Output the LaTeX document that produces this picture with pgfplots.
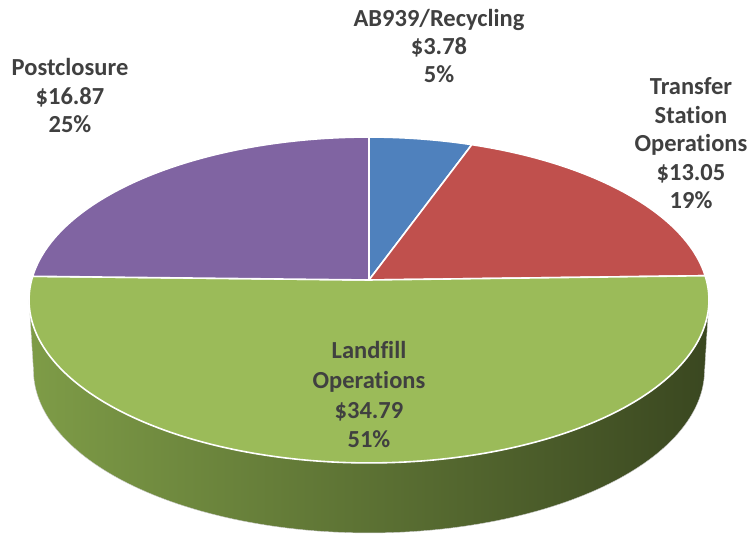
\documentclass[border=0pt]{standalone}
\usepackage{pgfplots}
\usepackage{pgfplotstable}
\pgfplotsset{compat=1.18}
\usepackage{fontspec}
\setmainfont{Carlito}[Ligatures=NoCommon]
\definecolor{cBlue}{HTML}{4F81BD}
\definecolor{cRed}{HTML}{C0504D}
\definecolor{cGreen}{HTML}{9BBB59}
\definecolor{cPurple}{HTML}{8064A2}
\definecolor{sideL}{HTML}{7E9C47}
\definecolor{sideM}{HTML}{5C7336}
\definecolor{sideR}{HTML}{3A4720}
\definecolor{txt}{HTML}{404040}
\pgfplotstableread{
name value
AB939 3.78
Transfer 13.05
Landfill 34.79
Postclosure 16.87
}\budget
\pgfplotstablegetelem{0}{value}\of\budget \let\vA\pgfplotsretval
\pgfplotstablegetelem{1}{value}\of\budget \let\vB\pgfplotsretval
\pgfplotstablegetelem{2}{value}\of\budget \let\vC\pgfplotsretval
\pgfplotstablegetelem{3}{value}\of\budget \let\vD\pgfplotsretval
\pgfmathsetmacro\tot{\vA+\vB+\vC+\vD}
\pgfmathsetmacro\tA{90}
\pgfmathsetmacro\tB{\tA-360*\vA/\tot}
\pgfmathsetmacro\tC{\tB-360*\vB/\tot}
\pgfmathsetmacro\tD{\tC-360*\vC/\tot}
\pgfmathsetmacro\tE{\tD-360*\vD/\tot}
% projection of the pie
\def\Cx{369}\def\Cy{258}\def\RA{337.4}\def\RB{160.5}\def\K{0.1227}
\def\Dp{70}\def\RAb{333}
\pgfmathsetmacro\tL{180+asin(\K)}
\pgfmathsetmacro\tR{360-asin(\K)}
\pgfmathsetmacro\span{\tR-\tL}
\begin{document}
\begin{tikzpicture}
\begin{axis}[width=750pt,height=538pt,scale only axis,
  xmin=0,xmax=750,ymin=0,ymax=538,hide axis,clip=false]
\path (axis cs:0,0) rectangle (axis cs:750,538);
% side of the pie
\addplot[draw=gray!40,line width=0.4pt,left color=sideL,middle color=sideM,right color=sideR,
  domain=0:2,samples=301,variable=\s]
  ({ \s<=1 ? \Cx+\RA*cos(\tL+\s*\span)/(1+\K*sin(\tL+\s*\span)) : \Cx+\RAb*cos(\tR-(\s-1)*\span)/(1+\K*sin(\tR-(\s-1)*\span)) },
   { \s<=1 ? \Cy+\RB*sin(\tL+\s*\span)/(1+\K*sin(\tL+\s*\span)) : \Cy-\Dp+\RB*sin(\tR-(\s-1)*\span)/(1+\K*sin(\tR-(\s-1)*\span)) })
  -- cycle;
% top slices
\addplot[fill=cBlue,draw=white,line width=1.6pt,line join=round,domain=\tB:\tA,samples=40,variable=\t]
  ({\Cx+\RA*cos(\t)/(1+\K*sin(\t))},{\Cy+\RB*sin(\t)/(1+\K*sin(\t))}) -- (axis cs:\Cx,\Cy) -- cycle;
\addplot[fill=cRed,draw=white,line width=1.6pt,line join=round,domain=\tC:\tB,samples=80,variable=\t]
  ({\Cx+\RA*cos(\t)/(1+\K*sin(\t))},{\Cy+\RB*sin(\t)/(1+\K*sin(\t))}) -- (axis cs:\Cx,\Cy) -- cycle;
\addplot[fill=cGreen,draw=white,line width=1.6pt,line join=round,domain=\tD:\tC,samples=180,variable=\t]
  ({\Cx+\RA*cos(\t)/(1+\K*sin(\t))},{\Cy+\RB*sin(\t)/(1+\K*sin(\t))}) -- (axis cs:\Cx,\Cy) -- cycle;
\addplot[fill=cPurple,draw=white,line width=1.6pt,line join=round,domain=\tE:\tD,samples=90,variable=\t]
  ({\Cx+\RA*cos(\t)/(1+\K*sin(\t))},{\Cy+\RB*sin(\t)/(1+\K*sin(\t))}) -- (axis cs:\Cx,\Cy) -- cycle;
% labels
\begin{scope}[every node/.style={anchor=base,text=txt,font=\fontsize{24.5}{29}\selectfont\bfseries,inner sep=0pt}]
\node at (axis cs:70,462) {Postclosure};
\node at (axis cs:70,433) {\$16.87};
\node at (axis cs:70,405) {25\%};
\node at (axis cs:439,511) {AB939/Recycling};
\node at (axis cs:439,483) {\$3.78};
\node at (axis cs:439,455) {5\%};
\node at (axis cs:691,443) {Transfer};
\node at (axis cs:691,414.5) {Station};
\node at (axis cs:691,386) {Operations};
\node at (axis cs:691,357.5) {\$13.05};
\node at (axis cs:691,329) {19\%};
\node at (axis cs:369,179) {Landfill};
\node at (axis cs:369,149) {Operations};
\node at (axis cs:369,119) {\$34.79};
\node at (axis cs:369,90) {51\%};
\end{scope}
\end{axis}
\end{tikzpicture}
\end{document}
